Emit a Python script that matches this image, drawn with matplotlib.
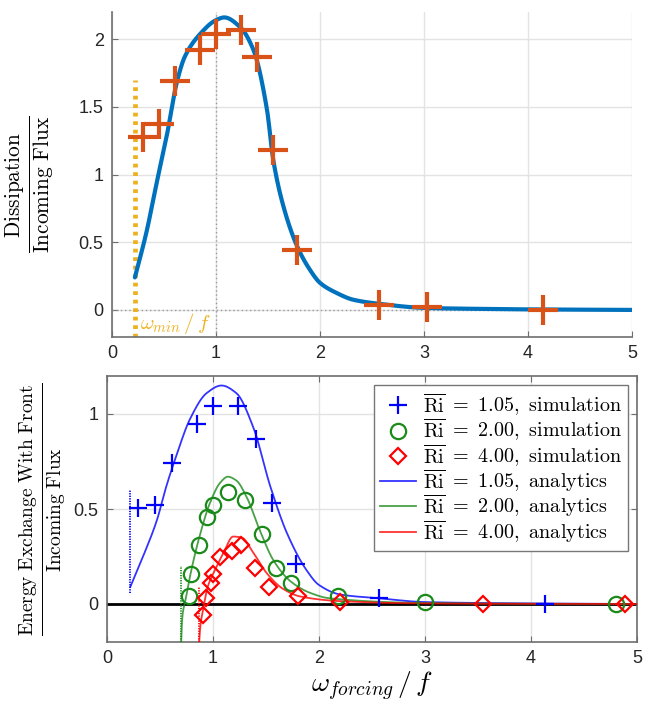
import numpy as np
import matplotlib
matplotlib.use("Agg")
import matplotlib.pyplot as plt
from matplotlib.ticker import FuncFormatter

plt.rcParams["mathtext.fontset"] = "cm"
plt.rcParams["font.family"] = ["Liberation Sans", "DejaVu Sans"]

# ---- top panel: dissipation ----
diss_sim_x = [0.30, 0.45, 0.61, 0.85, 1.00, 1.24, 1.39, 1.55, 1.78, 2.57, 3.03, 4.14]
diss_sim_y = [1.28, 1.37, 1.69, 1.92, 2.04, 2.07, 1.87, 1.18, 0.44, 0.04, 0.02, 0.00]

diss_th_x = [0.22, 0.33, 0.43, 0.53, 0.62, 0.70, 0.85, 1.00, 1.08, 1.23, 1.36, 1.49,
             1.55, 1.65, 1.78, 1.90, 2.00, 2.16, 2.32, 2.57, 3.00, 3.50, 4.00, 5.00]
diss_th_y = [0.24, 0.57, 0.94, 1.30, 1.67, 1.87, 2.04, 2.14, 2.16, 2.09, 1.92, 1.48,
             1.11, 0.76, 0.47, 0.30, 0.20, 0.125, 0.075, 0.045, 0.015, 0.008, 0.004, 0.0]

omega_min = 0.22

# ---- bottom panel: energy exchange with front ----
ri105_sim_x = [0.29, 0.45, 0.61, 0.85, 1.00, 1.24, 1.41, 1.56, 1.78, 2.57, 4.13]
ri105_sim_y = [0.505, 0.52, 0.74, 0.95, 1.04, 1.04, 0.87, 0.53, 0.21, 0.03, 0.0]

ri2_sim_x = [0.77, 0.79, 0.87, 0.94, 1.00, 1.14, 1.30, 1.46, 1.59, 1.74, 2.18, 3.00, 4.80]
ri2_sim_y = [0.04, 0.16, 0.31, 0.46, 0.52, 0.59, 0.55, 0.37, 0.19, 0.11, 0.04, 0.01, 0.0]

ri4_sim_x = [0.91, 0.93, 0.98, 1.00, 1.07, 1.18, 1.26, 1.40, 1.53, 1.80, 2.20, 3.55, 4.89]
ri4_sim_y = [-0.06, 0.03, 0.11, 0.16, 0.25, 0.28, 0.31, 0.19, 0.09, 0.04, 0.01, 0.0, 0.0]

ri105_th_x = [0.22, 0.34, 0.47, 0.56, 0.66, 0.78, 0.94, 1.08, 1.22, 1.38, 1.54, 1.70,
              1.88, 2.00, 2.20, 2.57, 3.00, 4.00, 5.00]
ri105_th_y = [0.09, 0.25, 0.44, 0.62, 0.79, 0.97, 1.11, 1.15, 1.11, 0.93, 0.62, 0.37,
              0.18, 0.10, 0.05, 0.03, 0.01, 0.003, 0.0]

ri2_th_x = [0.70, 0.71, 0.74, 0.80, 0.88, 0.97, 1.07, 1.14, 1.22, 1.32, 1.44, 1.57,
            1.73, 1.91, 2.10, 3.00, 4.00, 5.00]
ri2_th_y = [-0.20, -0.07, 0.02, 0.19, 0.37, 0.53, 0.64, 0.67, 0.65, 0.56, 0.39, 0.23,
            0.12, 0.06, 0.03, 0.005, 0.001, 0.0]

ri4_th_x = [0.87, 0.88, 0.91, 0.95, 1.02, 1.10, 1.19, 1.27, 1.38, 1.51, 1.66, 1.82,
            2.20, 3.00, 4.00, 5.00]
ri4_th_y = [-0.20, -0.12, -0.02, 0.09, 0.18, 0.27, 0.355, 0.35, 0.27, 0.16, 0.08, 0.04,
            0.015, 0.003, 0.001, 0.0]

# vertical cut-offs (x, y_low, y_high)
ri105_cut = (0.22, 0.06, 0.60)
ri2_cut = (0.70, -0.20, 0.20)
ri4_cut = (0.87, -0.20, 0.09)

legend_labels = [
    r"$\overline{\mathrm{Ri}}\ =\ 1.05\mathrm{,\ simulation}$",
    r"$\overline{\mathrm{Ri}}\ =\ 2.00\mathrm{,\ simulation}$",
    r"$\overline{\mathrm{Ri}}\ =\ 4.00\mathrm{,\ simulation}$",
    r"$\overline{\mathrm{Ri}}\ =\ 1.05\mathrm{,\ analytics}$",
    r"$\overline{\mathrm{Ri}}\ =\ 2.00\mathrm{,\ analytics}$",
    r"$\overline{\mathrm{Ri}}\ =\ 4.00\mathrm{,\ analytics}$",
]


def pchip(x, y, n=600):
    """Shape-preserving piecewise cubic interpolation (Fritsch-Carlson)."""
    x = np.asarray(x, float)
    y = np.asarray(y, float)
    h = np.diff(x)
    d = np.diff(y) / h
    m = np.zeros_like(y)
    for k in range(1, len(x) - 1):
        if d[k - 1] * d[k] > 0:
            w1 = 2 * h[k] + h[k - 1]
            w2 = h[k] + 2 * h[k - 1]
            m[k] = (w1 + w2) / (w1 / d[k - 1] + w2 / d[k])
    m[0] = d[0]
    m[-1] = d[-1]
    xs = np.linspace(x[0], x[-1], n)
    i = np.clip(np.searchsorted(x, xs, side="right") - 1, 0, len(x) - 2)
    t = (xs - x[i]) / h[i]
    h00 = 2 * t**3 - 3 * t**2 + 1
    h10 = t**3 - 2 * t**2 + t
    h01 = -2 * t**3 + 3 * t**2
    h11 = t**3 - t**2
    ys = h00 * y[i] + h10 * h[i] * m[i] + h01 * y[i + 1] + h11 * h[i] * m[i + 1]
    return xs, ys


W, H = 649, 706
fig = plt.figure(figsize=(W / 100, H / 100), dpi=100)

grid_c = "#e3e3e3"
spine_c = "#6e6e6e"
tick_fs = 13
fmt = FuncFormatter(lambda v, p: f"{v:g}")

# ---------------- top axes ----------------
ax1 = fig.add_axes([112 / W, 1 - 337 / H, 520 / W, 325 / H])
ax1.set_xlim(0, 5)
ax1.set_ylim(-0.2, 2.2)
ax1.set_xticks([0, 1, 2, 3, 4, 5])
ax1.set_yticks([0, 0.5, 1, 1.5, 2])
ax1.xaxis.set_major_formatter(fmt)
ax1.yaxis.set_major_formatter(fmt)
ax1.grid(True, color=grid_c, lw=1)
ax1.set_axisbelow(True)
for s in ("top", "right"):
    ax1.spines[s].set_visible(False)
for s in ("left", "bottom"):
    ax1.spines[s].set_color(spine_c)
    ax1.spines[s].set_linewidth(1.2)
ax1.tick_params(direction="in", length=4, color=spine_c, labelsize=tick_fs,
                labelcolor="#262626", pad=6)

ax1.axhline(0, color="#9a9a9a", ls=(0, (1, 2)), lw=1)
ax1.axvline(1, color="#9a9a9a", ls=(0, (1, 2)), lw=1)
ax1.plot([omega_min, omega_min], [-0.2, 1.7], color="#EDB120", lw=3.4,
         ls=(0, (0.8, 1.0)))
ax1.text(omega_min + 0.05, -0.1, r"$\omega_{min}\,/\,f$", color="#EDB120",
         fontsize=15, va="center", ha="left")

sx, sy = pchip(diss_th_x, diss_th_y)
ax1.plot(sx, sy, color="#0072BD", lw=3.0, solid_capstyle="round", zorder=3)
ax1.plot(diss_sim_x, diss_sim_y, ls="none", marker="+", ms=22, mew=3.0,
         color="#D95319", zorder=4)
ax1.set_ylabel(r"$\frac{\mathrm{Dissipation}}{\mathrm{Incoming\ Flux}}$",
               fontsize=22)
ax1.yaxis.set_label_coords(-0.107, 0.47)

# ---------------- bottom axes ----------------
ax2 = fig.add_axes([107 / W, 1 - 642 / H, 530 / W, 266 / H])
ax2.set_xlim(0, 5)
ax2.set_ylim(-0.2, 1.2)
ax2.set_xticks([0, 1, 2, 3, 4, 5])
ax2.set_yticks([0, 0.5, 1])
ax2.xaxis.set_major_formatter(fmt)
ax2.yaxis.set_major_formatter(fmt)
ax2.grid(True, color=grid_c, lw=1)
ax2.set_axisbelow(True)
for s in ax2.spines.values():
    s.set_color(spine_c)
    s.set_linewidth(1.2)
ax2.tick_params(direction="in", length=4, color=spine_c, labelsize=tick_fs,
                labelcolor="#262626", pad=6, top=True, right=True)

ax2.axhline(0, color="black", lw=2, zorder=2)

colors = ["#0000FF", "#1a8a1a", "#FF0000"]
cuts = [ri105_cut, ri2_cut, ri4_cut]
for c, (cx, lo, hi) in zip(colors, cuts):
    ax2.plot([cx, cx], [lo, hi], color=c, lw=1.3, ls=(0, (0.7, 0.7)), zorder=3)

th = [(ri105_th_x, ri105_th_y), (ri2_th_x, ri2_th_y), (ri4_th_x, ri4_th_y)]
sims = [(ri105_sim_x, ri105_sim_y, "+", 13), (ri2_sim_x, ri2_sim_y, "o", 11),
        (ri4_sim_x, ri4_sim_y, "D", 8)]
handles_sim = []
for c, (x, y, m, ms) in zip(colors, sims):
    h, = ax2.plot(x, y, ls="none", marker=m, ms=ms, mew=1.6, color=c,
                  mfc="none", zorder=5)
    handles_sim.append(h)
handles_th = []
for c, (x, y) in zip(colors, th):
    sx, sy = pchip(x, y)
    h, = ax2.plot(sx, sy, color=c, lw=1.3, alpha=0.8, zorder=4)
    handles_th.append(h)

leg = ax2.legend(handles_sim + handles_th, legend_labels, loc="upper right",
                 bbox_to_anchor=(0.99, 0.98), fontsize=14.5, frameon=True,
                 fancybox=False, edgecolor="#777777", framealpha=1,
                 handlelength=1.8, handletextpad=0.3, labelspacing=-0.08,
                 borderpad=0.3, borderaxespad=0.2)
leg.get_frame().set_linewidth(1.0)

ax2.set_ylabel(r"$\frac{\mathrm{Energy\ Exchange\ With\ Front}}{\mathrm{Incoming\ Flux}}$",
               fontsize=20, labelpad=4)
ax2.set_xlabel(r"$\omega_{forcing}\,/\,f$", fontsize=20, labelpad=2)

fig.savefig("out.png", dpi=100)
